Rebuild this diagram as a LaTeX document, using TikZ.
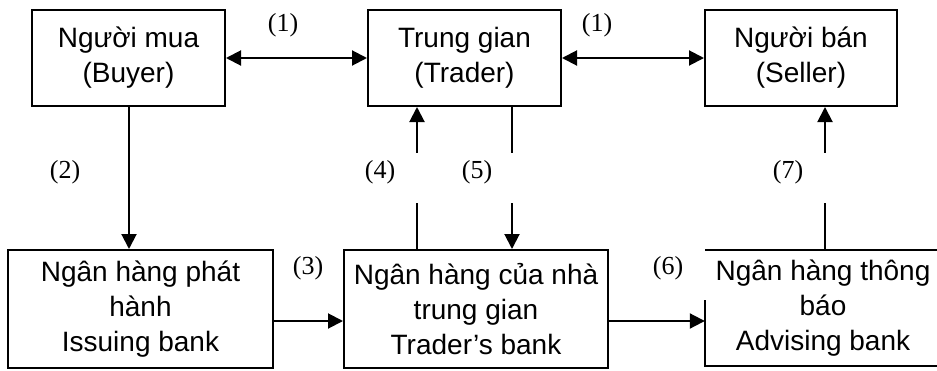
\documentclass[tikz,border=0pt]{standalone}
\usepackage{fontspec}
\setmainfont{Liberation Sans}
\newfontfamily\numfont{Liberation Serif}
\usetikzlibrary{arrows.meta}
\begin{document}
\begin{tikzpicture}[x=1pt,y=-1pt,
  party/.style={draw,line width=2pt,align=center,inner sep=0pt,
    font=\fontsize{28}{35}\selectfont},
  plain/.style={align=center,inner sep=0pt,font=\fontsize{28}{35}\selectfont},
  edge/.style={line width=2pt},
  flow/.style={edge,-{Triangle[length=15pt,width=15pt]}},
  both/.style={edge,{Triangle[length=15pt,width=15pt]}-{Triangle[length=15pt,width=15pt]}},
  tag/.style={font=\numfont\fontsize{26}{30}\selectfont,inner sep=0pt}]
\useasboundingbox (0,0) rectangle (937,370);

% parties
\node[party,minimum width=193pt,minimum height=96pt] (buyer)  at (128.5,58) {Người mua\\(Buyer)};
\node[party,minimum width=193pt,minimum height=96pt] (trader) at (464.5,58) {Trung gian\\(Trader)};
\node[party,minimum width=192pt,minimum height=96pt] (seller) at (801,58)   {Người bán\\(Seller)};

% banks
\node[party,minimum width=265pt,minimum height=118pt] (issue) at (140.5,309) {Ngân hàng phát\\hành\\Issuing bank};
\node[party,minimum width=264pt,minimum height=118pt] (tbank) at (476,309)   {Ngân hàng của nhà\\trung gian\\Trader’s bank};
\node[plain,minimum width=236pt,minimum height=116pt] (adv)   at (823,308)   {Ngân hàng thông\\báo\\Advising bank};

% advising bank border (left side opened below the (6) label)
\coordinate (advcut) at (705,300);
\draw[edge] (adv.north east) -- (adv.north west);
\draw[edge] (adv.west |- advcut) -- (adv.south west) -- (adv.south east);

% x positions of the vertical flows
\coordinate (x2) at (129,0);
\coordinate (x4) at (417,0);
\coordinate (x5) at (512,0);
\coordinate (x7) at (825,0);

% connectors
\draw[both] (buyer.east) -- (trader.west);
\draw[both] (trader.east) -- (seller.west);
\draw[flow] (buyer.south -| x2) -- (issue.north -| x2);
\draw[flow] (issue.east |- 0,321) -- (tbank.west |- 0,321);
\draw[flow] (tbank.north -| x4) -- (trader.south -| x4);
\draw[flow] (trader.south -| x5) -- (tbank.north -| x5);
\draw[flow] (tbank.east |- 0,321) -- (adv.west |- 0,321);
\draw[flow] (adv.north -| x7) -- (seller.south -| x7);

% white text frames breaking the vertical flows
\fill[white] (362,153) rectangle (432,203);
\fill[white] (458,153) rectangle (527,203);
\fill[white] (768,153) rectangle (840,203);

% step numbers
\node[tag] (l1a) at (283,25)  {(1)};
\node[tag] (l1b) at (597,25)  {(1)};
\node[tag] (l2)  at (65,172)  {(2)};
\node[tag] (l3)  at (308,268) {(3)};
\node[tag] (l4)  at (380,172) {(4)};
\node[tag] (l5)  at (477,172) {(5)};
\node[tag] (l6)  at (668,268) {(6)};
\node[tag] (l7)  at (788,172) {(7)};
\end{tikzpicture}
\end{document}
